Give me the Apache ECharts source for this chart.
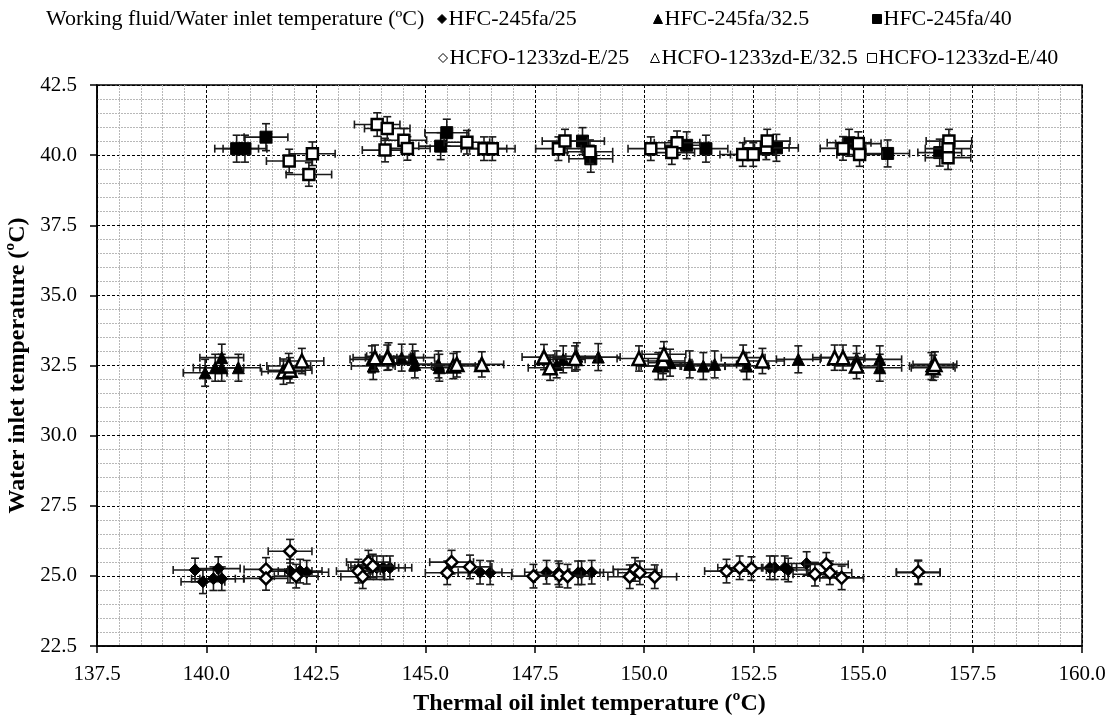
<!DOCTYPE html>
<html><head><meta charset="utf-8">
<script src="https://cdn.jsdelivr.net/npm/echarts@6/dist/echarts.min.js"></script>
<style>html,body{margin:0;padding:0;background:#fff}#c{width:1114px;height:720px}</style>
</head><body><div id="c"></div>
<script>
// ---- data ----
const seriesNames = ['HFC-245fa/25','HFC-245fa/32.5','HFC-245fa/40','HCFO-1233zd-E/25','HCFO-1233zd-E/32.5','HCFO-1233zd-E/40'];
const xTicks = [137.5,140.0,142.5,145.0,147.5,150.0,152.5,155.0,157.5,160.0];
const yTicks = [22.5,25.0,27.5,30.0,32.5,35.0,37.5,40.0,42.5];
const legendTitle = 'Working fluid/Water inlet temperature (ºC)';
const xName = 'Thermal oil inlet temperature (ºC)';
const yName = 'Water inlet temperature (ºC)';

const hfc25 = [[139.74,25.21],[139.92,24.79],[140.16,24.90],[140.27,25.26],[140.35,24.90],[141.91,25.17],[142.14,25.17],[142.29,25.13],[143.74,25.29],[143.89,25.29],[144.04,25.29],[144.19,25.29],[146.25,25.13],[146.48,25.11],[147.77,25.13],[148.04,25.11],[148.49,25.11],[148.57,25.11],[148.80,25.13],[152.87,25.29],[152.98,25.29],[153.21,25.29],[153.29,25.21],[153.71,25.44],[156.26,25.11]];
const hfc325 = [[139.97,32.24],[140.20,32.42],[140.35,32.78],[140.35,32.42],[140.73,32.42],[143.78,32.72],[143.81,32.48],[144.16,32.83],[144.46,32.78],[144.71,32.78],[144.76,32.54],[145.30,32.54],[145.32,32.42],[148.00,32.54],[148.15,32.72],[148.46,32.83],[148.95,32.80],[150.32,32.48],[150.43,32.48],[150.59,32.60],[151.04,32.54],[151.35,32.48],[151.61,32.54],[152.34,32.48],[153.52,32.72],[154.85,32.72],[155.38,32.72],[155.38,32.42],[156.56,32.48]];
const hfc40 = [[140.69,40.23],[140.88,40.23],[141.36,40.64],[145.49,40.80],[145.35,40.32],[148.59,40.50],[148.78,39.87],[150.97,40.35],[151.41,40.23],[153.02,40.26],[154.68,40.44],[155.56,40.06],[156.75,40.09]];
const hcfo25 = [[141.36,25.23],[141.36,24.91],[141.91,25.88],[142.05,24.99],[143.47,25.17],[143.57,24.97],[143.70,25.49],[143.80,25.35],[145.50,25.11],[145.60,25.49],[146.02,25.32],[147.47,24.99],[148.06,25.02],[148.25,24.99],[149.67,24.97],[149.79,25.23],[149.90,25.11],[150.24,24.97],[151.88,25.17],[152.18,25.29],[152.45,25.26],[153.90,25.06],[154.16,25.41],[154.24,25.11],[154.51,24.93],[156.26,25.14]];
const hcfo325 = [[141.76,32.28],[141.91,32.33],[141.88,32.48],[142.18,32.66],[143.85,32.78],[144.13,32.78],[145.64,32.48],[145.72,32.54],[146.29,32.54],[147.71,32.80],[147.85,32.42],[148.42,32.75],[149.88,32.75],[150.43,32.66],[150.45,32.90],[152.26,32.78],[152.70,32.66],[154.35,32.78],[154.54,32.78],[154.85,32.48],[156.60,32.42],[156.64,32.54]];
const hcfo40 = [[141.89,39.79],[142.42,40.05],[142.34,39.31],[143.90,41.09],[144.13,40.95],[144.51,40.53],[144.08,40.18],[144.59,40.24],[145.95,40.46],[146.34,40.23],[146.53,40.23],[148.04,40.23],[148.19,40.50],[148.76,40.12],[150.15,40.23],[150.75,40.44],[150.63,40.09],[152.25,40.02],[152.49,40.02],[152.79,40.26],[152.81,40.50],[154.54,40.24],[154.89,40.41],[154.92,40.02],[156.96,40.50],[156.94,40.23],[156.94,39.91]];
// uncertainty (half-length of error bars) per series
const errX = [0.5,0.5,0.5,0.5,0.5,0.52];
const errY = [0.42,0.48,0.48,0.42,0.45,0.42];

const seriesData = [hfc25,hfc325,hfc40,hcfo25,hcfo325,hcfo40];
const symbols = ['diamond','triangle','rect','diamond','triangle','rect'];
const sizes = [12,12,12,12,13,11];
const filled = [true,true,true,false,false,false];

const FONT = '"Liberation Serif","Times New Roman",serif';

function errSeries(i){
  return {
    type:'custom', name:'err'+i, silent:true, z:2+i*2,
    data: seriesData[i].map(d=>[d[0],d[1],errX[i],errY[i]]),
    encode:{x:0,y:1},
    renderItem:function(params, api){
      const x=api.value(0), y=api.value(1), dx=api.value(2), dy=api.value(3);
      const l=api.coord([x-dx,y]), r=api.coord([x+dx,y]);
      const t=api.coord([x,y+dy]), b=api.coord([x,y-dy]);
      const c=4;
      const st={stroke:'#1a1a1a',lineWidth:1.6};
      return {type:'group',children:[
        {type:'line',shape:{x1:l[0],y1:l[1],x2:r[0],y2:r[1]},style:st},
        {type:'line',shape:{x1:l[0],y1:l[1]-c,x2:l[0],y2:l[1]+c},style:st},
        {type:'line',shape:{x1:r[0],y1:r[1]-c,x2:r[0],y2:r[1]+c},style:st},
        {type:'line',shape:{x1:t[0],y1:t[1],x2:b[0],y2:b[1]},style:st},
        {type:'line',shape:{x1:t[0]-c,y1:t[1],x2:t[0]+c,y2:t[1]},style:st},
        {type:'line',shape:{x1:b[0]-c,y1:b[1],x2:b[0]+c,y2:b[1]},style:st}
      ]};
    }
  };
}
function scatSeries(i){
  return {
    type:'scatter', name:seriesNames[i], z:3+i*2,
    symbol:symbols[i], symbolSize:sizes[i],
    data:seriesData[i],
    itemStyle: filled[i] ? {color:'#000',borderColor:'#000',borderWidth:1,opacity:1}
                         : {color:'#fff',borderColor:'#000',borderWidth:2.5,opacity:1},
    emphasis:{disabled:true}
  };
}
const series=[];
for(let i=0;i<6;i++){ series.push(errSeries(i)); series.push(scatSeries(i)); }

const legendPos = [[437,8],[653,8],[872,8],[438,47],[650,47],[867,47]];
const legends = seriesNames.map((n,i)=>({
  data:[{name:n,itemStyle:{borderWidth:1}}], left:legendPos[i][0], top:legendPos[i][1],
  itemWidth:9, itemHeight:9, itemGap:2, padding:0, selectedMode:false,
  textStyle:{fontFamily:FONT,fontSize:22,color:'#000',padding:[0,0,0,-3]}
}));

const chart = echarts.init(document.getElementById('c'),null,{renderer:'canvas'});
chart.setOption({
  backgroundColor:'#fff',
  animation:false,
  title:{text:legendTitle,left:46,top:8,padding:0,textStyle:{fontFamily:FONT,fontSize:22,fontWeight:'normal',color:'#000'}},
  legend:legends,
  grid:{left:97,right:32,top:85,bottom:74,containLabel:false,outerBoundsMode:'none',show:true,borderColor:'#000',borderWidth:1.5,backgroundColor:'transparent'},
  xAxis:{
    type:'value', min:xTicks[0], max:xTicks[xTicks.length-1], interval:2.5,
    name:xName, nameLocation:'middle', nameGap:46,
    nameTextStyle:{fontFamily:FONT,fontSize:24,fontWeight:'bold',color:'#000'},
    axisLine:{show:true,lineStyle:{color:'#000',width:1.5}},
    axisTick:{show:true,length:7,lineStyle:{color:'#000',width:1.5}},
    axisLabel:{fontFamily:FONT,fontSize:21,color:'#000',margin:18,formatter:v=>v.toFixed(1)},
    splitLine:{show:true,lineStyle:{color:'#000',type:[3,2],width:1}},
    minorTick:{show:false,splitNumber:5},
    minorSplitLine:{show:true,lineStyle:{color:'#b8b8b8',type:[2,1],width:1}}
  },
  yAxis:{
    type:'value', min:yTicks[0], max:yTicks[yTicks.length-1], interval:2.5,
    name:yName, nameLocation:'middle', nameGap:56, nameRotate:90,
    nameTextStyle:{fontFamily:FONT,fontSize:24,fontWeight:'bold',color:'#000'},
    axisLine:{show:true,lineStyle:{color:'#000',width:1.5}},
    axisTick:{show:true,length:7,lineStyle:{color:'#000',width:1.5}},
    axisLabel:{fontFamily:FONT,fontSize:21,color:'#000',margin:20,formatter:v=>v.toFixed(1)},
    splitLine:{show:true,lineStyle:{color:'#000',type:[3,2],width:1}},
    minorTick:{show:false,splitNumber:5},
    minorSplitLine:{show:true,lineStyle:{color:'#b8b8b8',type:[2,1],width:1}}
  },
  series:series
});
</script></body></html>
